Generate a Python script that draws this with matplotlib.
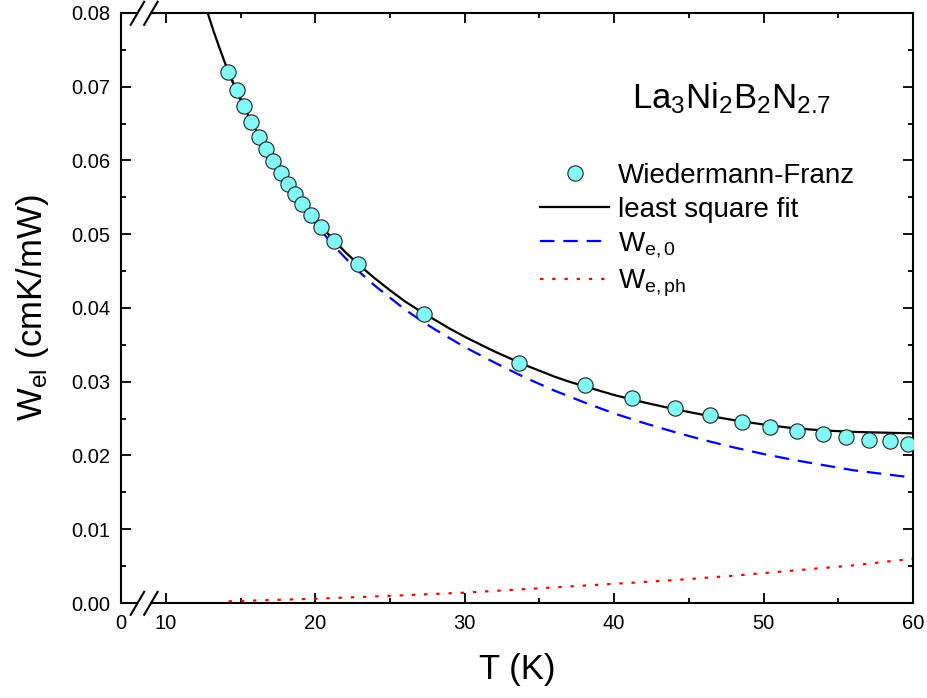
import numpy as np
import matplotlib
matplotlib.use("Agg")
import matplotlib.pyplot as plt
from matplotlib.ticker import MultipleLocator, FixedLocator, FormatStrFormatter
import matplotlib.transforms as mtransforms

plt.rcParams['font.family'] = ['Liberation Sans', 'DejaVu Sans']
plt.rcParams['mathtext.fontset'] = 'custom'
plt.rcParams['mathtext.rm'] = 'Liberation Sans'
plt.rcParams['mathtext.it'] = 'Liberation Sans'
plt.rcParams['mathtext.bf'] = 'Liberation Sans:bold'

# Wiedemann-Franz points
T_wf = [14.16, 14.76, 15.23, 15.70, 16.23, 16.70, 17.17, 17.71, 18.18, 18.65,
        19.12, 19.72, 20.39, 21.26, 22.87, 27.29, 33.66, 38.02, 41.23, 44.05,
        46.39, 48.54, 50.42, 52.22, 53.97, 55.51, 57.05, 58.46, 59.66]
W_wf = [0.0720, 0.0696, 0.0674, 0.0652, 0.0632, 0.0616, 0.0599, 0.0583, 0.0568, 0.0555,
        0.0541, 0.0526, 0.0510, 0.0491, 0.0460, 0.0392, 0.0325, 0.0296, 0.0278, 0.0264,
        0.0255, 0.0245, 0.0239, 0.0233, 0.0229, 0.0225, 0.0221, 0.0220, 0.0216]

# least square fit
T_fit = [12.8, 13.2, 13.6, 14.0, 14.5, 15.0, 15.5, 16.0, 16.5, 17.0, 17.5, 18.0,
         18.5, 19.0, 20.0, 21.0, 22.0, 23.0, 24.0, 25.0, 26.0, 27.0, 28.0, 29.0,
         30.0, 31.0, 32.0, 33.0, 34.0, 35.0, 36.0, 37.0, 38.0, 39.0, 40.0, 42.0,
         44.0, 46.0, 48.0, 50.0, 52.0, 54.0, 56.0, 58.0, 60.0]
W_fit = [0.0800, 0.0775, 0.0752, 0.0730, 0.0706, 0.0684, 0.0662, 0.0642, 0.0624,
         0.0606, 0.0590, 0.0575, 0.0560, 0.0547, 0.0521, 0.0497, 0.0476, 0.0457,
         0.0440, 0.0424, 0.0409, 0.0396, 0.0384, 0.0372, 0.0361, 0.0351, 0.0341,
         0.0332, 0.0323, 0.0315, 0.0307, 0.0300, 0.0294, 0.0288, 0.0282, 0.0272,
         0.0263, 0.0255, 0.0248, 0.0242, 0.0237, 0.0234, 0.0232, 0.0231, 0.0230]

# W_e,0 component
T_e0 = [14.2, 15.0, 16.0, 17.0, 18.0, 19.0, 20.0, 21.0, 22.0, 23.0, 24.0, 25.0,
        26.0, 27.0, 28.0, 29.0, 30.0, 32.0, 34.0, 36.0, 38.0, 40.0, 42.0, 44.0,
        46.0, 48.0, 50.0, 52.0, 54.0, 56.0, 58.0, 60.0]
W_e0 = [0.0719, 0.0681, 0.0638, 0.0602, 0.0569, 0.0541, 0.0515, 0.0490, 0.0468,
        0.0448, 0.0430, 0.0414, 0.0398, 0.0384, 0.0371, 0.0359, 0.0347, 0.0326,
        0.0306, 0.0288, 0.0272, 0.0257, 0.0244, 0.0232, 0.0221, 0.0211, 0.0202,
        0.0194, 0.0187, 0.0180, 0.0175, 0.0170]

# W_e,ph component
T_eph = [14.2, 17.0, 20.0, 25.0, 30.0, 35.0, 40.0, 44.0, 48.0, 52.0, 56.0, 60.0]
W_eph = [0.00023, 0.00040, 0.00058, 0.00097, 0.0014, 0.0020, 0.0026, 0.0031,
         0.0037, 0.0044, 0.0051, 0.0060]

# broken axis: position 7 stands for T = 0
x_ticks = [7, 10, 20, 30, 40, 50, 60]
x_ticklabels = ['0', '10', '20', '30', '40', '50', '60']

fig = plt.figure(figsize=(9.28, 6.98), dpi=100)
ax = fig.add_axes([0.1304, 0.1361, 0.8534, 0.8453])

ax.plot(T_fit, W_fit, color='black', lw=1.6, label='least square fit', zorder=3)
ax.plot(T_e0, W_e0, color='#0000ff', lw=1.6, ls=(0, (6.5, 4)), label=r'W$_{\mathregular{e,0}}$', zorder=2)
ax.plot(T_eph, W_eph, color='#ff0000', lw=1.6, ls=(0, (1.5, 4)), label=r'W$_{\mathregular{e,ph}}$', zorder=2)
ax.plot(T_wf, W_wf, 'o', ms=11, mfc='#7ffaf6', mec='#222222', mew=0.8,
        label='Wiedermann-Franz', zorder=4)

ax.set_xlim(7, 60)
ax.set_ylim(0, 0.08)
ax.xaxis.set_major_locator(FixedLocator(x_ticks))
ax.set_xticklabels(x_ticklabels)
ax.xaxis.set_minor_locator(FixedLocator([15, 25, 35, 45, 55]))
ax.yaxis.set_major_locator(MultipleLocator(0.01))
ax.yaxis.set_minor_locator(MultipleLocator(0.005))
ax.yaxis.set_major_formatter(FormatStrFormatter('%.2f'))

ax.tick_params(which='both', direction='in', top=True, right=True, width=1.3)
ax.tick_params(which='major', length=7, labelsize=14.5, pad=8)
ax.tick_params(which='minor', length=3.5)
for s in ax.spines.values():
    s.set_linewidth(1.5)

# top/bottom spines drawn by hand to leave room for the break marks
ax.spines['top'].set_visible(False)
ax.spines['bottom'].set_visible(False)
trans = mtransforms.blended_transform_factory(ax.transData, ax.transAxes)
for yy in (0, 1):
    ax.plot([7, 8.1], [yy, yy], color='black', lw=1.5, transform=trans, clip_on=False, zorder=5)
    ax.plot([9.0, 60], [yy, yy], color='black', lw=1.5, transform=trans, clip_on=False, zorder=5)
    for x0 in (7.65, 8.55):
        ax.plot([x0, x0 + 0.9], [yy - 0.02, yy + 0.019], color='black', lw=1.5,
                transform=trans, clip_on=False, zorder=5)

ax.set_xlabel('T (K)', fontsize=25, labelpad=14)
ax.set_ylabel(r'W$_{\mathregular{el}}$ (cmK/mW)', fontsize=25, labelpad=14)

ax.text(0.771, 0.855, r'La$_{\mathregular{3}}$Ni$_{\mathregular{2}}$B$_{\mathregular{2}}$N$_{\mathregular{2.7}}$',
        transform=ax.transAxes, fontsize=25, ha='center', va='center')

handles, labels = ax.get_legend_handles_labels()
order = [3, 0, 1, 2]
ax.legend([handles[i] for i in order], [labels[i] for i in order],
          loc='upper left', bbox_to_anchor=(0.515, 0.765), frameon=False,
          fontsize=20, handlelength=2.5, handletextpad=0.3, labelspacing=0.28,
          borderaxespad=0)

fig.savefig('out.png', dpi=100)
